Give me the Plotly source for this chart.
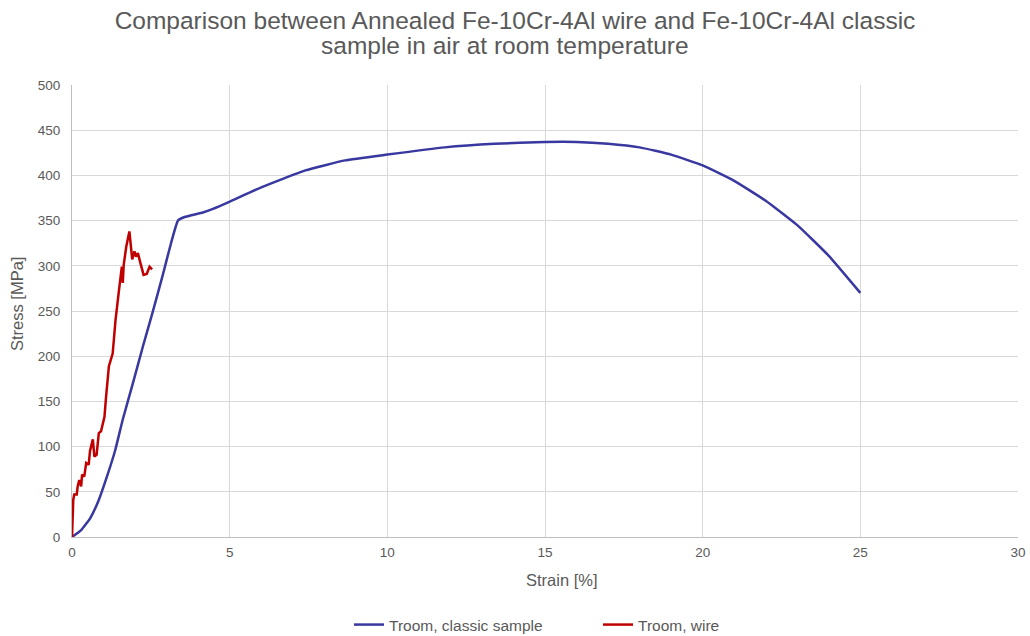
import plotly.graph_objects as go

# Troom, classic sample
classic_strain = [0, 0.30, 0.58, 0.85, 1.11, 1.37, 1.61, 1.93, 2.25, 2.56, 2.88, 3.14, 3.36, 3.57, 4.15, 4.47,
                  4.97, 6.02, 7.40, 8.66, 10.0, 11.82, 13.39, 15.0, 16.0, 17.0, 18.0, 19.0, 20.0,
                  21.0, 22.0, 23.0, 24.0, 25.0]
classic_stress = [0, 8, 21, 41, 67, 96, 130, 170, 211, 249, 290, 325, 350, 354, 359, 363,
                  370.5, 387, 405.5, 416.6, 423, 431, 435, 437, 437, 435, 431, 423, 411,
                  394, 372, 345, 311, 270]

# Troom, wire
wire_strain = [0, 0.04, 0.07, 0.15, 0.18, 0.23, 0.29, 0.32, 0.39, 0.45, 0.53, 0.57, 0.66, 0.71, 0.78,
               0.85, 0.92, 1.03, 1.08, 1.17, 1.29, 1.38, 1.48, 1.58, 1.61, 1.64, 1.72, 1.82, 1.91,
               1.98, 2.03, 2.09, 2.17, 2.27, 2.37, 2.46, 2.54]
wire_stress = [0, 41, 47, 47, 56, 63, 56, 69, 67, 82, 80, 95, 108, 89, 91,
               115, 117, 133, 155, 189, 203, 240, 270, 299, 281, 301, 321, 338, 307,
               316, 310, 314, 303, 290, 291, 299, 296]

x_ticks = [0, 5, 10, 15, 20, 25, 30]
y_ticks = [0, 50, 100, 150, 200, 250, 300, 350, 400, 450, 500]

title_line1 = "Comparison between Annealed Fe-10Cr-4Al wire and Fe-10Cr-4Al classic"
title_line2 = "sample in air at room temperature"

font_family = "Liberation Sans, Arial, sans-serif"
gray = "#595959"

fig = go.Figure()
fig.add_trace(go.Scatter(x=classic_strain, y=classic_stress, mode="lines",
                         name="Troom, classic sample",
                         line=dict(color="#3838A0", width=2.5, shape="spline", smoothing=0.4)))
fig.add_trace(go.Scatter(x=wire_strain, y=wire_stress, mode="lines",
                         name="Troom, wire",
                         line=dict(color="#C00000", width=2.5)))

fig.update_layout(
    width=1030, height=636,
    margin=dict(l=72, r=12, t=85, b=99, autoexpand=False),
    paper_bgcolor="white", plot_bgcolor="white",
    font=dict(family=font_family, color=gray, size=13),
    title=dict(text=title_line1, x=0.5, xanchor="center", xref="container",
               y=1 - 20 / 636, yanchor="middle", yref="container",
               font=dict(size=24.5, color=gray, family=font_family)),
    xaxis=dict(range=[0, 30], tickvals=x_ticks, showgrid=True, gridcolor="#D9D9D9", gridwidth=1,
               showline=True, linecolor="#BFBFBF", linewidth=1, zeroline=False, ticks="",
               automargin=False, ticklabelstandoff=3,
               tickfont=dict(size=13.5, color=gray)),
    yaxis=dict(range=[0, 500], tickvals=y_ticks, showgrid=True, gridcolor="#D9D9D9", gridwidth=1,
               showline=True, linecolor="#BFBFBF", linewidth=1, zeroline=False, ticks="",
               automargin=False, ticklabelstandoff=8,
               tickfont=dict(size=13.5, color=gray)),
    legend=dict(orientation="h", x=0.5 + 53 / 946, xanchor="center", y=-(625 - 537) / 452, yanchor="middle",
                font=dict(size=15.5, color=gray), itemwidth=30, entrywidth=204,
                traceorder="normal"),
    showlegend=True,
    annotations=[
        dict(text=title_line2, xref="paper", yref="paper",
             x=(505 - 72) / 946, y=(537 - 46) / 452, xanchor="center", yanchor="middle",
             showarrow=False, font=dict(size=24.5, color=gray, family=font_family)),
        dict(text="Strain [%]", xref="paper", yref="paper",
             x=(562 - 72) / 946, y=(537 - 580) / 452, xanchor="center", yanchor="middle",
             showarrow=False, font=dict(size=16.5, color=gray, family=font_family)),
        dict(text="Stress [MPa]", xref="paper", yref="paper", textangle=-90,
             x=(17 - 72) / 946, y=(537 - 304) / 452, xanchor="center", yanchor="middle",
             showarrow=False, font=dict(size=16.5, color=gray, family=font_family)),
    ],
)

fig.write_html("out.html")
